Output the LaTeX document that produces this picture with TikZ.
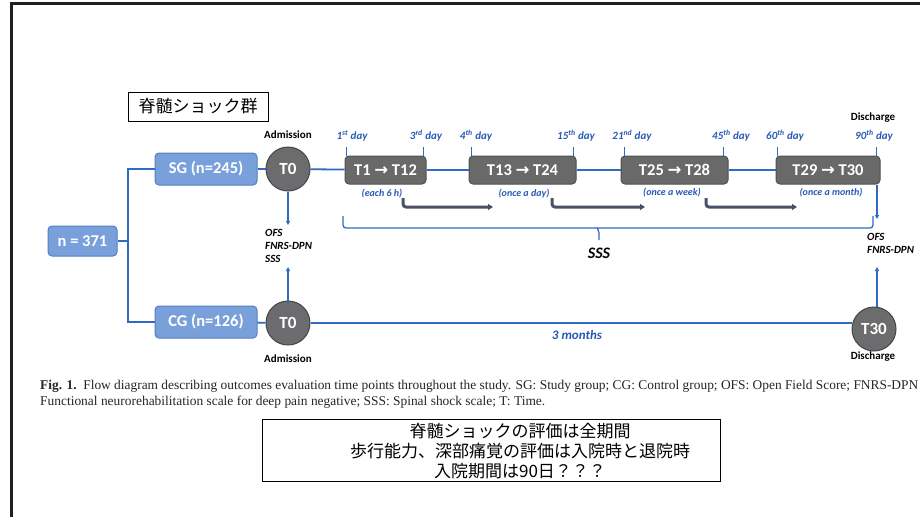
\documentclass[tikz,border=0pt]{standalone}
\usepackage{fontspec}
\setmainfont{Liberation Serif}
\newfontfamily\calib{Carlito}
\newfontfamily\jp{Noto Sans CJK JP}
\newfontfamily\dv{DejaVu Sans}
\usetikzlibrary{arrows.meta,calc}
\definecolor{lineblue}{RGB}{47,106,196}
\definecolor{txtblue}{RGB}{40,90,180}
\definecolor{boxblue}{RGB}{122,160,220}
\definecolor{boxblueD}{RGB}{85,125,195}
\definecolor{cgrey}{RGB}{108,108,110}
\definecolor{cgreyD}{RGB}{70,70,72}
\definecolor{tgrey}{RGB}{105,105,105}
\definecolor{tgreyD}{RGB}{80,80,80}
\definecolor{slate}{RGB}{75,82,104}
\newcommand{\rarr}{{\dv\bfseries →}}
\tikzset{
  bl/.style={draw=lineblue, line width=1.8pt},
  blthin/.style={draw=lineblue, line width=1.3pt},
  blarrow/.style={draw=lineblue, line width=1.3pt, -{Triangle[length=4pt,width=4pt]}},
  elbow/.style={draw=slate, line width=3pt, rounded corners=3pt, -{Triangle[length=5pt,width=6pt]}},
  bluebox/.style={rounded corners=4pt, fill=boxblue, draw=boxblueD, line width=1pt, text=white,
    font=\calib\bfseries\fontsize{16.5}{18}\selectfont, inner sep=0pt, minimum height=32pt},
  circ/.style={circle, fill=cgrey, draw=cgreyD, line width=1pt, minimum size=44pt, inner sep=0pt,
    text=white, font=\calib\bfseries\fontsize{17}{18}\selectfont},
  tbox/.style={rounded corners=4pt, fill=tgrey, draw=tgreyD, line width=1pt, text=white,
    font=\calib\bfseries\fontsize{16.5}{18}\selectfont, inner sep=0pt, minimum height=28pt},
  daylbl/.style={text=txtblue, font=\calib\bfseries\itshape\fontsize{11}{13}\selectfont, inner sep=0pt},
  sublbl/.style={text=txtblue, font=\calib\bfseries\itshape\fontsize{10}{11}\selectfont, inner sep=0pt},
  blk/.style={text=black, font=\calib\bfseries\fontsize{11}{13}\selectfont, inner sep=0pt},
  meas/.style={text=black, font=\calib\bfseries\itshape\fontsize{11}{13}\selectfont, inner sep=0pt, align=left},
  jpbox/.style={draw=black, line width=0.8pt},
}
\begin{document}
\begin{tikzpicture}[x=1pt,y=-1pt]
\useasboundingbox (0,0) rectangle (920,517);
\fill[white] (0,0) rectangle (920,517);
% frame
\draw[line width=2.5pt, black!88] (11.5,517) -- (11.5,3.5) -- (920,3.5);

% top label
\node[jpbox, minimum width=140pt, minimum height=29pt, inner sep=0pt, font=\jp\fontsize{17}{20}\selectfont] (lbl) at (198,106.5) {脊髄ショック群};

% nodes
\node[bluebox, minimum width=69pt, minimum height=30pt] (n) at (82.5,241) {n = 371};
\coordinate (split) at (128,241);
\node[bluebox, minimum width=102pt] (sg) at (206,169) {SG (n=245)};
\node[bluebox, minimum width=102pt] (cg) at (206,322) {CG (n=126)};
\node[circ] (t0a) at (288,169) {T0};
\node[circ] (t0b) at (288,323) {T0};
\node[circ] (t30) at (874,329) {T30};
\node[tbox, minimum width=81pt] (b1) at (385.5,170) {T1 \rarr\ T12};
\node[tbox, minimum width=107pt] (b2) at (522.5,170) {T13 \rarr\ T24};
\node[tbox, minimum width=107pt] (b3) at (674.5,170) {T25 \rarr\ T28};
\node[tbox, minimum width=104pt] (b4) at (828,170) {T29 \rarr\ T30};

% connectors
\draw[bl] (n.east) -- (split);
\draw[bl] (sg.west) -- (sg.west -| split) -- (cg.west -| split) -- (cg.west);
\draw[bl] (sg) -- (t0a);
\draw[bl] (cg) -- (t0b);
\draw[bl] (t0a) -- (b1);
\draw[bl] (b1) -- (b2);
\draw[bl] (b2) -- (b3);
\draw[bl] (b3) -- (b4);
\draw[bl] (t0b.east) -- (t0b.east -| t30.west);

% Admission / Discharge
\node[blk] (adm1) at (288,135) {Admission};
\node[blk] (adm2) at (288,359) {Admission};
\node[blk] (dis1) at (873,118) {Discharge};
\node[blk] (dis2) at (873,357) {Discharge};

% day labels and ticks
\node[daylbl] (d1) at (352,136) {1\textsuperscript{st} day};
\node[daylbl] (d3) at (426,136) {3\textsuperscript{rd} day};
\node[daylbl] (d4) at (476,136) {4\textsuperscript{th} day};
\node[daylbl] (d15) at (576,136) {15\textsuperscript{th} day};
\node[daylbl] (d21) at (632,136) {21\textsuperscript{nd} day};
\node[daylbl] (d45) at (731,136) {45\textsuperscript{th} day};
\node[daylbl] (d60) at (785,136) {60\textsuperscript{th} day};
\node[daylbl] (d90) at (874,136) {90\textsuperscript{th} day};
\draw[blthin] ($(b1.north west)+(2,0)$) -- ++(0,-9);
\draw[blthin] ($(b1.north east)+(-3,0)$) -- ++(0,-9);
\draw[blthin] ($(b2.north west)+(3,0)$) -- ++(0,-9);
\draw[blthin] ($(b2.north east)+(-3,0)$) -- ++(0,-9);
\draw[blthin] ($(b3.north west)+(4,0)$) -- ++(0,-9);
\draw[blthin] ($(b3.north east)+(-5,0)$) -- ++(0,-9);
\draw[blthin] ($(b4.north west)+(2,0)$) -- ++(0,-9);
\draw[blthin] ($(b4.north east)+(-4,0)$) -- ++(0,-9);

% frequency labels
\node[sublbl] (f1) at (382,194) {(each 6 h)};
\node[sublbl] (f2) at (524,194) {(once a day)};
\node[sublbl] (f3) at (672,193) {(once a week)};
\node[sublbl] (f4) at (831,193) {(once a month)};

% elbow arrows
\coordinate (e1s) at (403,198); \coordinate (e1e) at (493,207);
\coordinate (e2s) at (552,198); \coordinate (e2e) at (645,207);
\coordinate (e3s) at (706,198); \coordinate (e3e) at (797,207);
\draw[elbow] (e1s) -- (e1s |- e1e) -- (e1e);
\draw[elbow] (e2s) -- (e2s |- e2e) -- (e2e);
\draw[elbow] (e3s) -- (e3s |- e3e) -- (e3e);

% SSS brace
\draw[blthin, rounded corners=3pt] (343,216) -- (343,228) -- (873,228) -- (873,216);
\draw[blthin, rounded corners=2pt] (597,228) -- (599,231) -- (599,240);
\node[text=black, font=\calib\bfseries\itshape\fontsize{16}{18}\selectfont, inner sep=0pt] (sss) at (599,253) {SSS};

% measure arrows (left)
\node[meas, anchor=north west] (mL) at (265,229) {OFS\\FNRS-DPN\\SSS};
\coordinate (aL1) at (288,225);
\coordinate (aL2) at (288,267);
\draw[blarrow] (t0a.south) -- (aL1);
\draw[blarrow] (t0b.north) -- (aL2);

% measure arrows (right)
\node[meas, anchor=north west] (mR) at (867,233) {OFS\\FNRS-DPN};
\coordinate (aR1) at (877,219);
\coordinate (aR2) at (877,267);
\draw[blarrow] (aR1 |- b4.south) -- (aR1);
\draw[blarrow] (aR2 |- t30.north) -- (aR2);

% 3 months
\node[text=txtblue, font=\calib\bfseries\itshape\fontsize{13}{15}\selectfont, inner sep=0pt] (m3) at (577,335) {3 months};

% caption
\node[anchor=base west, inner sep=0pt, text=black!85] (cap1) at (40,389) {\resizebox{878pt}{!}{\fontsize{12}{14}\selectfont\textbf{Fig. 1.}\ \ Flow diagram describing outcomes evaluation time points throughout the study. SG: Study group; CG: Control group; OFS: Open Field Score; FNRS-DPN}};
\node[anchor=base west, inner sep=0pt, text=black!85] (cap2) at (40,405) {\resizebox{505pt}{!}{\fontsize{12}{14}\selectfont Functional neurorehabilitation scale for deep pain negative; SSS: Spinal shock scale; T: Time.}};

% bottom note
\draw[jpbox] (262,419) rectangle (720,481);
\node[inner sep=0pt, align=center, font=\jp\fontsize{17}{20}\selectfont] (note) at (520,451) {脊髄ショックの評価は全期間\\歩行能力、深部痛覚の評価は入院時と退院時\\入院期間は90日？？？};
\end{tikzpicture}
\end{document}
